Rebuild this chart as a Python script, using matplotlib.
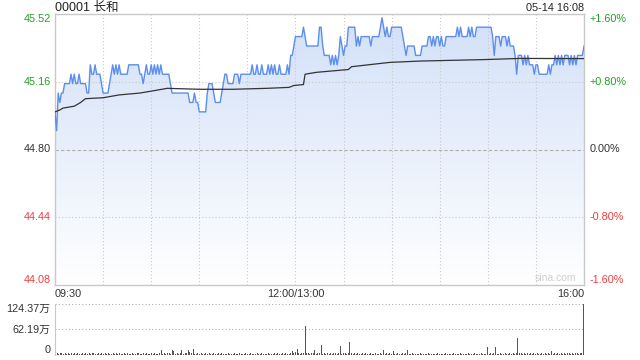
import numpy as np
import matplotlib
matplotlib.use("Agg")
import matplotlib.pyplot as plt
from matplotlib.colors import LinearSegmentedColormap
from matplotlib.patches import Polygon

plt.rcParams["font.family"] = ["Liberation Sans", "Noto Sans CJK SC", "DejaVu Sans"]

title = "00001 长和"
stamp = "05-14 16:08"
prev_close = 44.80
y_ticks = [45.52, 45.16, 44.80, 44.44, 44.08]
pct_labels = ["+1.60%", "+0.80%", "0.00%", "-0.80%", "-1.60%"]
x_labels = ["09:30", "12:00/13:00", "16:00"]
x_label_min = [0, 150, 330]
vol_ticks = [124.37, 62.19, 0]
vol_labels = ["124.37万", "62.19万", "0"]

# minute prices, 09:30 -> 12:00 (151 pts)
price_am = [
    45.00, 44.90, 45.10, 45.05, 45.10, 45.10, 45.15, 45.15, 45.15, 45.15,
    45.20, 45.15, 45.20, 45.15, 45.15, 45.20, 45.15, 45.15, 45.15, 45.15,
    45.10, 45.10, 45.25, 45.20, 45.20, 45.25, 45.20, 45.20, 45.20, 45.15,
    45.10, 45.10, 45.10, 45.10, 45.15, 45.20, 45.25, 45.20, 45.25, 45.20,
    45.25, 45.20, 45.20, 45.20, 45.20, 45.20, 45.25, 45.25, 45.25, 45.25,
    45.25, 45.25, 45.25, 45.20, 45.20, 45.15, 45.20, 45.25, 45.20, 45.20,
    45.25, 45.20, 45.25, 45.20, 45.25, 45.20, 45.25, 45.20, 45.20, 45.20,
    45.20, 45.20, 45.15, 45.10, 45.10, 45.10, 45.10, 45.10, 45.10, 45.10,
    45.10, 45.10, 45.10, 45.10, 45.05, 45.05, 45.05, 45.10, 45.05, 45.05,
    45.00, 45.00, 45.00, 45.00, 45.00, 45.10, 45.15, 45.15, 45.15, 45.10,
    45.05, 45.05, 45.05, 45.05, 45.10, 45.15, 45.20, 45.20, 45.15, 45.15,
    45.15, 45.15, 45.20, 45.20, 45.20, 45.15, 45.20, 45.20, 45.20, 45.20,
    45.20, 45.20, 45.20, 45.25, 45.20, 45.20, 45.25, 45.20, 45.20, 45.25,
    45.20, 45.20, 45.20, 45.25, 45.20, 45.25, 45.20, 45.25, 45.20, 45.20,
    45.25, 45.20, 45.20, 45.20, 45.20, 45.25, 45.20, 45.30, 45.30, 45.35,
    45.40,
]
# minute prices, 13:01 -> 16:00 (180 pts)
price_pm = [
    45.40, 45.40, 45.40, 45.40, 45.45, 45.40, 45.35, 45.35, 45.35, 45.35,
    45.35, 45.35, 45.35, 45.35, 45.45, 45.45, 45.35, 45.30, 45.30, 45.30,
    45.30, 45.25, 45.30, 45.25, 45.30, 45.25, 45.30, 45.40, 45.35, 45.30,
    45.35, 45.35, 45.45, 45.45, 45.45, 45.45, 45.45, 45.35, 45.40, 45.35,
    45.40, 45.40, 45.40, 45.40, 45.40, 45.40, 45.35, 45.40, 45.40, 45.40,
    45.40, 45.40, 45.45, 45.50, 45.45, 45.40, 45.45, 45.40, 45.40, 45.45,
    45.45, 45.45, 45.45, 45.45, 45.45, 45.45, 45.40, 45.35, 45.30, 45.35,
    45.35, 45.35, 45.35, 45.35, 45.30, 45.30, 45.30, 45.30, 45.35, 45.35,
    45.35, 45.35, 45.40, 45.40, 45.35, 45.40, 45.35, 45.40, 45.40, 45.35,
    45.40, 45.35, 45.35, 45.40, 45.40, 45.40, 45.40, 45.40, 45.40, 45.40,
    45.45, 45.40, 45.45, 45.40, 45.40, 45.40, 45.40, 45.45, 45.40, 45.45,
    45.40, 45.40, 45.45, 45.45, 45.45, 45.45, 45.45, 45.45, 45.45, 45.45,
    45.45, 45.45, 45.40, 45.30, 45.40, 45.40, 45.40, 45.35, 45.40, 45.40,
    45.40, 45.35, 45.40, 45.35, 45.35, 45.35, 45.30, 45.20, 45.30, 45.30,
    45.30, 45.25, 45.30, 45.25, 45.30, 45.25, 45.25, 45.25, 45.20, 45.25,
    45.25, 45.20, 45.20, 45.20, 45.20, 45.20, 45.20, 45.25, 45.20, 45.25,
    45.25, 45.30, 45.25, 45.30, 45.25, 45.30, 45.25, 45.30, 45.30, 45.30,
    45.25, 45.30, 45.25, 45.30, 45.25, 45.30, 45.30, 45.30, 45.30, 45.35,
]

# average price line, read at a few minutes
avg_min = [0, 3, 5, 12, 16, 19, 30, 40, 53, 60, 70, 90, 111, 132, 146, 149,
           155, 156, 163, 183, 185, 209, 228, 269, 290, 330]
avg_val = [45.00, 45.01, 45.02, 45.03, 45.05, 45.07, 45.075, 45.09, 45.10, 45.11,
           45.125, 45.12, 45.12, 45.125, 45.13, 45.14, 45.145, 45.20, 45.21, 45.225,
           45.24, 45.263, 45.27, 45.278, 45.284, 45.283]

# volume per minute, in 万
volume = [
    46, 5, 3, 6, 4, 3, 5, 2, 4, 3,
    6, 3, 4, 2, 5, 3, 3, 6, 2, 4,
    3, 5, 2, 4, 6, 3, 2, 4, 3, 5,
    2, 4, 3, 5, 2, 3, 6, 2, 4, 3,
    5, 2, 3, 4, 2, 5, 3, 2, 4, 3,
    2, 4, 5, 3, 2, 4, 3, 6, 2, 3,
    4, 2, 5, 3, 2, 4, 12, 3, 5, 2,
    4, 6, 3, 11, 9, 3, 4, 2, 5, 12,
    3, 4, 5, 13, 8, 4, 14, 3, 2, 4,
    3, 5, 2, 3, 4, 2, 6, 3, 2, 4,
    3, 2, 5, 3, 4, 2, 3, 2, 4, 3,
    2, 3, 4, 2, 3, 5, 2, 3, 2, 4,
    3, 2, 4, 3, 2, 3, 5, 2, 3, 4,
    2, 3, 2, 4, 3, 2, 3, 5, 2, 4,
    3, 2, 4, 3, 5, 2, 3, 4, 10, 6,
    8,
    15, 4, 3, 5, 6, 70, 5, 4, 3, 6,
    4, 11, 3, 5, 4, 24, 3, 5, 2, 4,
    3, 5, 2, 4, 6, 3, 4, 22, 3, 5,
    4, 2, 6, 32, 5, 3, 4, 2, 5, 3,
    2, 4, 3, 5, 2, 3, 4, 2, 3, 5,
    2, 3, 4, 2, 12, 3, 5, 2, 4, 3,
    10, 3, 2, 4, 3, 2, 5, 3, 4, 11,
    3, 2, 4, 3, 2, 3, 2, 4, 3, 2,
    3, 2, 4, 2, 3, 2, 3, 2, 4, 3,
    2, 3, 2, 4, 2, 3, 2, 3, 4, 2,
    3, 2, 4, 3, 2, 3, 2, 4, 3, 2,
    3, 4, 2, 3, 2, 4, 3, 2, 3, 20,
    3, 4, 2, 5, 20, 3, 2, 4, 3, 2,
    4, 3, 2, 5, 3, 4, 2, 6, 42, 5,
    4, 3, 5, 2, 4, 3, 6, 2, 4, 3,
    5, 3, 2, 4, 3, 5, 2, 4, 3, 10,
    3, 5, 2, 4, 3, 6, 2, 5, 3, 4,
    5, 3, 6, 2, 4, 5, 3, 6, 4, 124.37,
]

GREEN = "#23a023"
RED = "#f03c3c"
GRAY = "#333333"
BORDER = "#c8c8c8"

price = np.array(price_am + price_pm)
minutes = np.arange(len(price))
ymin, ymax = y_ticks[-1], y_ticks[0]
xmax = minutes[-1]

fig = plt.figure(figsize=(6.4, 3.6), dpi=100)
ax = fig.add_axes([55 / 640, 1 - 285 / 360, 529 / 640, 271 / 360])
axv = fig.add_axes([55 / 640, 1 - 355 / 360, 529 / 640, 51 / 360])

# gradient fill under the price line
cmap = LinearSegmentedColormap.from_list("fill", ["#ffffff", "#d2e0f8"])
grad = np.linspace(1, 0, 256).reshape(-1, 1)
im = ax.imshow(grad, extent=[0, xmax, ymin, ymax], aspect="auto", cmap=cmap,
               origin="upper", zorder=1)
verts = np.column_stack([minutes, price]).tolist() + [[xmax, ymin], [0, ymin]]
clip = Polygon(verts, closed=True, facecolor="none", edgecolor="none",
               transform=ax.transData)
ax.add_patch(clip)
im.set_clip_path(clip)

# grid
for m in range(30, int(xmax), 30):
    ax.axvline(m, color="#c8c8c8", lw=0.8, ls=(0, (1, 2)), zorder=2)
for v in y_ticks[1:-1]:
    if v == prev_close:
        ax.axhline(v, color="#b0b0b0", lw=0.8, ls=(0, (3, 2)), zorder=2)
    else:
        ax.axhline(v, color="#c8c8c8", lw=0.8, ls=(0, (1, 2)), zorder=2)

ax.plot(minutes, price, color="#5b8ef0", lw=1.0, zorder=4)
ax.plot(avg_min, avg_val, color=GRAY, lw=0.9, zorder=5)

ax.set_xlim(0, xmax)
ax.set_ylim(ymin, ymax)
ax.set_xticks([])
ax.set_yticks([])
for s in ax.spines.values():
    s.set_color(BORDER)
    s.set_linewidth(1.0)

# y labels
ytr = ax.get_yaxis_transform()
for v, pl in zip(y_ticks, pct_labels):
    c = GREEN if v > prev_close else (RED if v < prev_close else GRAY)
    va = "top" if v == ymax else ("bottom" if v == ymin else "center")
    ax.text(-0.008, v, f"{v:.2f}", transform=ytr, ha="right", va=va,
            fontsize=7.8, color=c)
    ax.text(1.011, v, pl, transform=ytr, ha="left", va=va, fontsize=7.8, color=c)

# x labels
xtr = ax.get_xaxis_transform()
for m, lab in zip(x_label_min, x_labels):
    ha = "left" if m == 0 else ("right" if m == xmax else "center")
    ax.text(m, -0.016, lab, transform=xtr, ha=ha, va="top", fontsize=7.8, color=GRAY)

ax.text(0.985, 0.008, "sina.com", transform=ax.transAxes, ha="right", va="bottom",
        fontsize=7.5, color="#cfcfcf")

fig.text(55 / 640, 1 - 8 / 360, title, ha="left", va="center", fontsize=9, color="#222222")
fig.text(584 / 640, 1 - 8 / 360, stamp, ha="right", va="center", fontsize=7.8, color="#222222")

# volume panel
vol = np.array(volume)
axv.bar(minutes, vol, width=0.6, color="#555555", linewidth=0)
axv.set_xlim(-0.3, xmax + 0.3)
axv.set_ylim(0, vol_ticks[0])
for v in vol_ticks[:2]:
    axv.axhline(v, color="#b0b0b0", lw=0.8, ls=(0, (1, 2)), zorder=0)
axv.set_xticks([])
axv.set_yticks([])
for k in ["top", "right", "bottom"]:
    axv.spines[k].set_visible(False)
axv.spines["left"].set_color(BORDER)
vtr = axv.get_yaxis_transform()
for v, lab in zip(vol_ticks, vol_labels):
    va = "top" if v == vol_ticks[0] else ("bottom" if v == 0 else "center")
    axv.text(-0.008, v, lab, transform=vtr, ha="right", va=va, fontsize=7.8, color=GRAY)

fig.savefig("out.png", dpi=100)
